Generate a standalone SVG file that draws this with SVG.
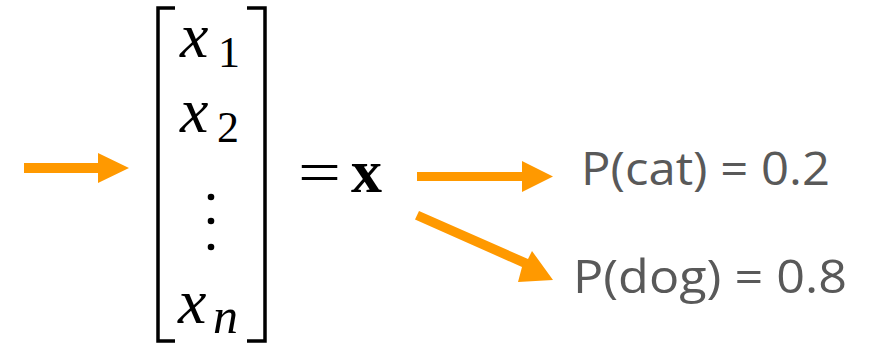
<svg xmlns="http://www.w3.org/2000/svg" width="875" height="344" viewBox="0 0 875 344">
<defs>
<style>
.math{font-family:"Liberation Serif","DejaVu Serif",serif;fill:#000}
.it{font-style:italic}
.lbl{font-family:"Open Sans","Noto Sans",sans-serif;font-size:46px;fill:#595959}
.br{fill:none;stroke:#000;stroke-width:3.5}
.arr{fill:#FF9900}
</style>
</defs>
<rect width="875" height="344" fill="#fff"/>
<g id="vector">
<path class="br" d="M175,8 H158 V341 H175"/>
<path class="br" d="M247,8 H265 V341 H247"/>
<text class="math it" x="180" y="57" font-size="64">x</text>
<text class="math" x="218" y="67" font-size="44">1</text>
<text class="math it" x="180" y="132" font-size="64">x</text>
<text class="math" x="217" y="142" font-size="44">2</text>
<circle cx="211" cy="197" r="3.3"/>
<circle cx="211" cy="221" r="3.3"/>
<circle cx="211" cy="247" r="3.3"/>
<text class="math it" x="178" y="323" font-size="64">x</text>
<text class="math it" x="213" y="333" font-size="50">n</text>
</g>
<g id="equals-x">
<text class="math" x="298" y="192" font-size="60" textLength="43" lengthAdjust="spacingAndGlyphs">=</text>
<text class="math" x="351" y="192" font-size="62" font-weight="bold">x</text>
</g>
<g id="p-cat"><text class="lbl" x="581" y="185" textLength="249" lengthAdjust="spacingAndGlyphs">P(cat) = 0.2</text></g>
<g id="p-dog"><text class="lbl" x="573" y="293" textLength="274" lengthAdjust="spacingAndGlyphs">P(dog) = 0.8</text></g>
<g id="connectors">
<polygon class="arr" points="24,163 98,163 98,153 129,168 98,183 98,173 24,173"/>
<polygon class="arr" points="417,172 522,172 522,161 553,176.5 522,192 522,181 417,181"/>
<polygon class="arr" points="415,219.5 419,211 528,259 532,251 553,280 518,282 522,267"/>
</g>
</svg>
